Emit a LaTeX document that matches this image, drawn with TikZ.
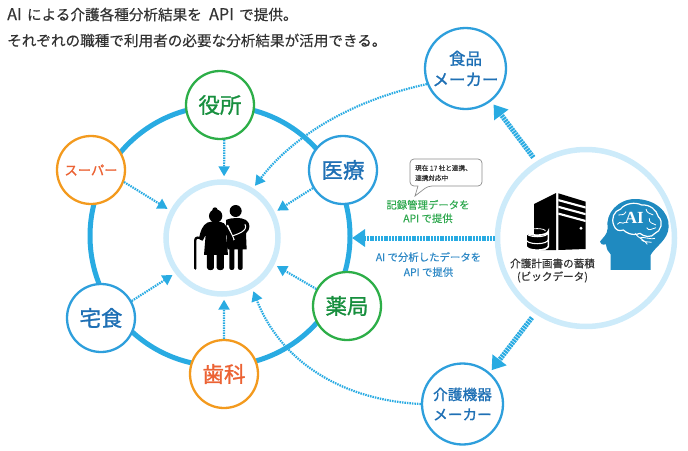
\documentclass[tikz,border=0pt]{standalone}
\usepackage{fontspec}
\setmainfont{Noto Sans CJK JP}
\newfontfamily\titlef[FakeBold=0.35]{Noto Sans CJK JP}
\newfontfamily\labelf[FakeBold=1.2]{Noto Sans CJK JP}
\newfontfamily\smallf[FakeBold=0.25]{Noto Sans CJK JP}
\usetikzlibrary{arrows.meta,calc}
\definecolor{ringblue}{HTML}{29ABE2}
\definecolor{paleblue}{HTML}{CDEBFA}
\definecolor{nodeblue}{HTML}{2E9FDC}
\definecolor{nodegreen}{HTML}{2DAE48}
\definecolor{nodeorange}{HTML}{F39A1E}
\definecolor{txtblue}{HTML}{1F70B5}
\definecolor{txtred}{HTML}{EC6233}
\definecolor{txtgreen}{HTML}{178F3E}
\definecolor{lblgreen}{HTML}{2FA84F}
\definecolor{lblblue}{HTML}{2D88C5}
\definecolor{txtdark}{HTML}{333333}
\definecolor{headblue}{HTML}{1F8AC0}
\newcommand{\latinbig}[1]{{\fontsize{16.2}{16}\selectfont #1}}
\tikzset{
  x=1pt,y=-1pt,
  place/.style={circle,draw=#1,line width=2.3pt,fill=white,inner sep=0pt,minimum size=68pt,align=center},
  bigplace/.style={place=#1,minimum size=81pt},
  twochar/.style={font=\labelf\fontsize{21.5}{24}\selectfont},
  thin arrow/.style={draw=ringblue,line width=2.2pt,dash pattern=on 1.5pt off 1pt,
     -{Triangle[length=10pt,width=11pt,fill=ringblue]},shorten >=3pt},
  thick arrow/.style={draw=ringblue,line width=5pt,dash pattern=on 2pt off 0.8pt,
     -{Triangle[length=13pt,width=17pt,fill=ringblue]}},
}
\begin{document}
\begin{tikzpicture}
\useasboundingbox (0,0) rectangle (688,450);
% ring
\draw[ringblue,line width=5pt] (220,236) circle[radius=130];
% central
\node[circle,draw=paleblue,line width=5.5pt,fill=white,minimum size=112pt,inner sep=0pt] (center) at (222,238) {};
\node[circle,draw=paleblue,line width=5.5pt,fill=white,minimum size=177pt,inner sep=0pt] (big) at (586,238) {};
% satellites
\node[place=nodegreen,text=txtgreen,twochar] (yakusho) at (220,105) {役所};
\node[place=nodeblue,text=txtblue,twochar] (iryo) at (343,170) {医療};
\node[place=nodegreen,text=txtgreen,twochar] (yakkyoku) at (347,306) {薬局};
\node[place=nodeorange,text=txtred,twochar] (shika) at (224,374) {歯科};
\node[place=nodeblue,text=txtblue,twochar] (takushoku) at (101,318) {宅食};
\node[place=nodeorange,text=txtred,font=\labelf\fontsize{13.3}{16}\selectfont] (super) at (91,170) {スーパー};
\node[bigplace=nodeblue,text=txtblue,font=\labelf\fontsize{16.5}{21}\selectfont] (shokuhin) at (465.5,68.5) {食品\\メーカー};
\node[bigplace=nodeblue,text=txtblue,font=\labelf\fontsize{14.7}{20}\selectfont] (kiki) at (462.5,404) {介護機器\\メーカー};
% arrows to centre
\draw[thin arrow] (yakusho.-83) -- (center.88);
\draw[thin arrow] (super.-20) -- (center.152);
\draw[thin arrow] (iryo.211) -- (center.26);
\draw[thin arrow] (yakkyoku.151) -- (center.-27);
\draw[thin arrow] (shika) -- (center.-88);
\draw[thin arrow] (takushoku.29) -- (center.217);
\draw[thin arrow] (shokuhin.202) .. controls (345,102) and (290,140) .. (center.58);
\draw[thin arrow] (kiki.180) .. controls (340,400) and (280,360) .. (center.-59);
% thick arrows
\coordinate (mainend) at (352,238);
\draw[thick arrow] (big.180) -- (mainend);
\draw[thick arrow,shorten <=5pt,shorten >=4pt] (big.123) -- (shokuhin.-52);
\draw[thick arrow,shorten <=5pt,shorten >=3pt] (big.-124) -- (kiki.49);
% title
\node[anchor=west,inner sep=0pt,text=txtdark,font=\titlef\fontsize{14.6}{16}\selectfont] (t1) at (7,14.5) {\latinbig{AI}\hspace{2pt} による介護各種分析結果を\hspace{4pt} \latinbig{API}\hspace{2pt} で提供。};
\node[anchor=west,inner sep=0pt,text=txtdark,font=\titlef\fontsize{14.6}{16}\selectfont] (t2) at (7,40.5) {それぞれの職種で利用者の必要な分析結果が活用できる。};
% callout
\draw[fill=white,draw=black!45,line width=.7pt,rounded corners=4pt] (410,159) -- (482,159) -- (482,186) -- (428,186) [sharp corners] -- (415,196) -- (418,186) [rounded corners=4pt] -- (410,186) -- cycle;
\node[align=left,inner sep=0pt,anchor=west,text=txtdark,font=\smallf\fontsize{6.6}{10}\selectfont] (co) at (415,173) {現在 17 社と連携、\\連携対応中};
% labels
\node[align=center,inner sep=0pt,text=lblgreen,font=\smallf\fontsize{10.4}{13.5}\selectfont] (gl) at (428,211.5) {記録管理データを\\API で提供};
\node[align=center,inner sep=0pt,text=lblblue,font=\smallf\fontsize{10.4}{15}\selectfont] (bl) at (428.5,264.5) {AI で分析したデータを\\API で提供};
\node[align=center,inner sep=0pt,text=txtdark,font=\smallf\fontsize{10.6}{13}\selectfont] (bd) at (552.5,270.5) {介護計画書の蓄積\\(ビックデータ)};
% elderly pair
\begin{scope}[shift={(150,160)},x=.3333pt,y=-.3333pt]
 \fill[black] (257,153) circle[radius=18];
 \fill[black] (228,180) .. controls (245,172) and (275,172) .. (288,180) .. controls (302,190) and (302,208) .. (288,220) -- (290,268) -- (278,268) -- (278,324) .. controls (278,332) and (264,332) .. (264,324) -- (264,268) -- (253,268) -- (253,324) .. controls (253,332) and (238,332) .. (238,324) -- (238,268) -- (232,268) -- cycle;
 \draw[white,line width=1pt,line cap=round] (285,193) .. controls (295,212) and (265,222) .. (240,230);
 \draw[white,line width=1.6pt] (232,195) -- (252,240);
 \fill[black] (197,168) circle[radius=20];
 \fill[black] (195,150) circle[radius=8];
 \fill[black] (172,188) .. controls (188,182) and (208,182) .. (222,190) .. controls (234,205) and (244,222) .. (250,238) -- (240,244) -- (228,222) -- (234,285) -- (222,285) -- (222,323) .. controls (222,333) and (200,333) .. (200,323) -- (200,285) -- (192,285) -- (192,323) .. controls (192,333) and (171,333) .. (171,323) -- (171,285) -- (162,285) -- (167,225) -- (158,242) -- (147,236) .. controls (150,215) and (158,195) .. (172,188) -- cycle;
 \draw[black,line width=2.3pt,line cap=round] (136,326) -- (136,240) .. controls (136,232) and (146,230) .. (156,238);
\end{scope}
% server
\fill[black] (534,204) -- (556,193) -- (556,250) -- (534,250) -- cycle;
\fill[black] (558.3,193.3) -- (585.7,201.7) -- (585.7,249) -- (558.3,250) -- cycle;
\foreach \a in {199,205.7,212.5}{
  \fill[white] (558.3,\a) -- (585.7,{\a+7.4}) -- (585.7,{\a+9.6}) -- (558.3,{\a+2.2}) -- cycle;}
\fill[white] (581,228.3) circle[radius=1.6];
% database
\fill[black,draw=white,line width=1.6pt] (526,231) -- (526,246) arc[x radius=11.2,y radius=4.2,start angle=180,end angle=0] -- (548.4,231) arc[x radius=11.2,y radius=4.2,start angle=0,end angle=180] -- cycle;
\draw[white,line width=1.1pt] (526,232.5) arc[x radius=11.2,y radius=4.2,start angle=180,end angle=0];
\draw[white,line width=1.1pt] (526,239.5) arc[x radius=11.2,y radius=4.2,start angle=180,end angle=0];
\draw[white,line width=.8pt] (529,231) arc[x radius=8.2,y radius=2.4,start angle=180,end angle=360];
% head
\begin{scope}[shift={(590,185)},x=.3333pt,y=-.3333pt]
 \fill[headblue] (62,255) -- (62,208) .. controls (55,200) and (50,195) .. (48,178) .. controls (38,180) and (30,178) .. (30,170) .. controls (38,158) and (52,150) .. (53,130) .. controls (45,85) and (85,42) .. (135,42) .. controls (195,42) and (238,80) .. (236,125) .. controls (235,165) and (195,185) .. (182,210) -- (182,255) -- cycle;
 \draw[white,line width=1.2pt,line join=round] (72,122) .. controls (62,100) and (72,78) .. (92,72) .. controls (105,55) and (135,50) .. (155,60) .. controls (180,58) and (200,75) .. (205,95) .. controls (222,110) and (212,140) .. (195,145) .. controls (185,160) and (160,155) .. (150,145) .. controls (125,155) and (105,140) .. (100,135) .. controls (88,140) and (76,135) .. (72,122) -- cycle;
 \draw[white,line width=.8pt] (85,90) .. controls (95,88) and (102,92) .. (108,80);
 \draw[white,line width=.8pt] (82,118) .. controls (92,105) and (95,120) .. (106,112);
 \draw[white,line width=.8pt] (168,72) .. controls (170,85) and (180,85) .. (190,90);
 \draw[white,line width=.8pt] (178,100) .. controls (175,115) and (190,115) .. (198,120);
 \draw[white,line width=.8pt] (170,128) .. controls (175,140) and (190,130) .. (198,128);
 \draw[white,line width=.8pt] (135,145) .. controls (145,160) and (165,165) .. (172,178) (150,158) .. controls (165,155) and (185,165) .. (195,160) (155,165) .. controls (160,172) and (175,170) .. (185,172);
 \node[text=white,inner sep=0pt,font=\fontspec{Liberation Serif}\bfseries\fontsize{17}{17}\selectfont] (ai) at (133,98) {AI};
\end{scope}
\end{tikzpicture}
\end{document}
